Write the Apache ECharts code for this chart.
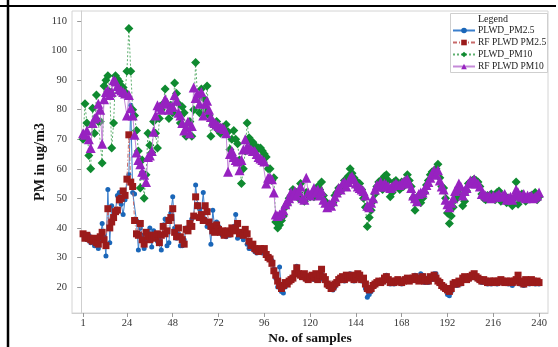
<!DOCTYPE html>
<html>
<head>
<meta charset="utf-8">
<script src="https://cdn.jsdelivr.net/npm/echarts@6/dist/echarts.min.js"></script>
<style>
  html, body { margin: 0; padding: 0; background: #fff; }
  #chart { width: 558px; height: 347px; }
</style>
</head>
<body>
<div id="chart"></div>
<script>
// tick labels
var xTicks = [1, 24, 48, 72, 96, 120, 144, 168, 192, 216, 240];
var yTicks = [20, 30, 40, 50, 60, 70, 80, 90, 100, 110];

// series values, sample 1..240
var plwdPm25 = [
  38, 37.5, 36, 37.5, 35, 36, 34, 35.5, 33, 36,
  41.5, 37, 30.5, 53, 35, 47.5, 43, 46, 51, 52,
  48, 44.5, 49.5, 56.5, 58, 81.5, 52, 51.5, 42.5, 32.5,
  40, 37.5, 33, 36, 38.5, 40, 33.5, 39, 37, 35.5,
  36, 32.5, 41, 43, 34, 35, 45, 50.5, 40, 36.5,
  38, 34, 34, 36, 40, 39.5, 41.5, 43, 44, 54.5,
  48, 46.5, 45, 52, 43, 40.5, 41.5, 34.5, 46, 40,
  42, 40.5, 38.5, 37.5, 38, 37, 38, 37.5, 39, 40.5,
  44.5, 36.5, 38, 37, 36, 39, 34.5, 33, 33, 34,
  32, 31.5, 32.5, 33, 31.5, 32, 31.5, 30.5, 30, 29,
  26, 23, 20, 26.8, 18.5, 18, 20, 21, 21.5, 22.5,
  23.5, 25, 27, 25, 24, 24.5, 23, 22.5, 23, 24,
  23, 22.5, 24, 23.5, 22.5, 24.5, 22.5, 22, 20.5, 20,
  19.5, 19, 20, 21, 22, 22.5, 23, 22, 24, 23.5,
  24.5, 24, 22, 23.5, 24.5, 23, 22, 22.5, 19.5, 16.5,
  17.5, 18.5, 20, 20.5, 21, 21.5, 22, 21.5, 22.5, 24,
  22, 21, 21.5, 21, 21.5, 22, 21.5, 21, 22.5, 23,
  22.5, 22, 23, 22.5, 24, 23, 22, 24.5, 24, 21.5,
  23, 21.5, 23, 22.5, 24.5, 24.5, 22, 21, 20.5, 19.5,
  19, 17.5, 17, 18.5, 20.5, 21, 20.5, 21.5, 21, 22.5,
  23, 23.5, 22.5, 23, 24, 24.5, 23, 22.5, 22, 21.5,
  22, 21.5, 21, 21.5, 21, 21.5, 22, 21, 21.5, 22,
  21.5, 22, 21.5, 21, 21.5, 20.5, 21.5, 22, 23.5, 21,
  21.5, 20.5, 22, 21.5, 21, 22, 21.5, 21, 21.5, 21
];
var rfPm25 = [
  38, 36.5, 37.5, 36.5, 36, 35.5, 36.5, 35, 34.5, 37,
  38.5, 36, 34, 46.5, 40, 42, 43.5, 45.5, 46, 49.5,
  50, 52.5, 51, 56.5, 71.5, 55.5, 54, 42.5, 38, 37.5,
  41.5, 36, 34.5, 38.5, 37, 36, 37.5, 37.5, 36.5, 38,
  35, 37.5, 40.5, 38, 39, 42.5, 43.5, 46.5, 38.5, 37,
  40, 37, 36, 34.5, 39.5, 39, 41.5, 40.5, 44, 50.5,
  47.5, 43.5, 44.5, 42.5, 47.5, 45.5, 42, 40.5, 39, 38.5,
  41, 39.5, 38.5, 39, 37.5, 38.5, 39, 38, 40, 39,
  39.5, 41.5, 38, 38.5, 37.5, 39.5, 38, 35.5, 34, 34.5,
  33, 32.5, 32, 33, 32.5, 33, 31, 30, 29.5, 28,
  25.5, 24, 22, 20.5, 19.5, 20.5, 21.5, 21, 22, 22.5,
  23, 24.5, 26.5, 24.5, 24, 23.5, 24.5, 23, 22.5, 23.5,
  24, 23, 24.5, 22.5, 24, 26, 23.5, 22.5, 21, 20.5,
  19.5, 20, 21, 21.5, 22.5, 23, 23.5, 22.5, 24, 23,
  23.5, 24, 22.5, 23, 24.5, 24, 22.5, 23, 21, 19.5,
  19, 19.5, 20.5, 21, 21.5, 22, 21.5, 22, 23, 23.5,
  22.5, 21.5, 22, 21.5, 22, 22.5, 22, 21.5, 22, 22.5,
  23, 22, 22.5, 23, 23.5, 22.5, 22, 23, 23.5, 22,
  22.5, 22, 23.5, 23, 24, 23, 22, 21.5, 20.5, 20,
  19.5, 19, 18.5, 19.5, 21, 21.5, 21, 22, 21.5, 23,
  23.5, 22.5, 23, 23.5, 24, 24.5, 23.5, 23, 22.5, 22,
  22.5, 22, 21.5, 22, 21.5, 22, 22, 21.5, 22, 22.5,
  22, 21.5, 22, 21.5, 22, 21.5, 22, 22.5, 24, 21.5,
  22, 21, 22.5, 22, 21.5, 22.5, 22, 21.5, 22, 21.5
];
var plwdPm10 = [
  70, 82, 75.5, 64.5, 60, 80.5, 72, 85, 76, 76,
  62, 88, 90, 91.5, 86, 67, 75.5, 91.5, 90.5, 89.5,
  88, 87.5, 86, 93, 107.5, 93, 80, 78, 73, 66,
  53.5, 63, 50, 58, 72, 68, 65.5, 76, 72, 67,
  77, 80, 82, 87, 82, 77, 81.5, 79, 89, 85.5,
  82, 75.5, 81, 79, 71, 74, 76, 71, 80, 96,
  84, 79, 87, 84, 80, 88, 78, 71, 75, 74.5,
  76, 73, 72, 74, 73, 75, 72.5, 66.5, 70, 73,
  70, 68.5, 63, 55, 60, 66, 75.5, 70.5, 69, 69,
  68, 66.5, 67, 67, 66, 65, 64, 60, 60, 56,
  57, 42, 40, 41, 42.5, 44, 47, 48, 50, 51,
  53, 51.5, 52, 50, 55, 49.5, 49, 52, 51, 50.5,
  51, 50.5, 52.5, 54, 53, 55.5, 51, 49, 47.5, 47,
  47.5, 48.5, 51, 52, 53.5, 52.5, 54, 56, 55.5, 57.5,
  60, 58.5, 57, 56, 53.5, 55, 53, 50, 47, 40.5,
  43.5, 46, 49, 51.5, 54, 55.5, 56, 53, 57.5, 58,
  56, 50.5, 52, 55.5, 56, 54, 53, 55.5, 54, 56,
  58, 56, 54, 50, 46, 49, 51, 48.5, 50, 52,
  54.5, 56, 58, 59, 58, 60, 61.5, 57, 54, 53.5,
  50, 45, 41.5, 44, 47, 49.5, 50, 51.5, 53, 47.5,
  49, 52.5, 55, 55.5, 56, 56.5, 56, 55.5, 54, 51.5,
  50, 49.5, 51, 50.5, 51.5, 50, 49.5, 52, 52.5, 49,
  50, 51, 48.5, 50, 49.5, 47.5, 50, 55.5, 48, 50,
  51.5, 50.5, 49, 50, 50.5, 51, 50, 52, 49.5, 50.5
];
var rfPm10 = [
  72, 71.5, 73, 70, 67, 75.5, 77, 77.5, 82, 80,
  68.5, 83.5, 86, 86.5, 85, 86, 90, 89.5, 88, 87,
  86.5, 86, 85.5, 78, 85, 80.5, 78, 71.5, 65.5, 63,
  61.5, 59, 58, 55.5, 64, 64.5, 66, 72.5, 78, 81.5,
  81, 80, 82, 83.5, 82.5, 80, 81, 81, 85, 83,
  79, 78, 75.5, 73, 74, 76, 72, 74.5, 87.5, 84,
  85.5, 82, 86, 78, 82, 83, 80, 77.5, 76, 75.5,
  75, 74.5, 74, 74, 73.5, 72, 59, 65, 66, 64,
  63, 62.5, 59.5, 63, 66.5, 70, 67.5, 67, 66.5, 66,
  66, 65, 64, 63.5, 63, 62.5, 55, 57, 57, 56.5,
  52, 44.5, 44, 44.5, 45, 46, 48, 49, 50, 52,
  51, 52.5, 51, 52.5, 54, 50, 49.5, 57, 52, 51,
  52, 53.5, 52, 53, 51, 52.5, 49.5, 48.5, 47, 48,
  47.5, 49, 50.5, 52, 53.5, 53, 55, 55.5, 54, 55.5,
  57, 57.5, 56.5, 55, 54, 53.5, 53, 52.5, 51, 47.5,
  47, 48.5, 50, 53, 54.5, 54, 55.5, 54, 55, 54.5,
  54, 53.5, 54, 54.5, 55, 54.5, 54.5, 55, 55.5, 56,
  56.5, 55, 53.5, 51, 50, 49, 51.5, 52, 52, 53,
  54.5, 55.5, 57, 58.5, 59.5, 58, 59.5, 56, 54, 53,
  49.5, 48, 47, 48.5, 50, 52.5, 53, 55, 54, 51,
  52.5, 53.5, 55, 56, 55.5, 56.5, 55, 55, 54, 51.5,
  51.5, 51, 50.5, 51, 50, 51, 50.5, 51, 51.5, 50.5,
  51, 51.5, 49.5, 50, 50.5, 49.5, 51, 53, 52, 51,
  50.5, 51.5, 50, 51, 50.5, 51, 50, 50.5, 51, 52
];

function pairs(arr) {
    return arr.map(function (v, i) { return [i + 1, v]; });
}

var serif = '"Liberation Serif", "DejaVu Serif", serif';

var myChart = echarts.init(document.getElementById('chart'), null, { renderer: 'canvas' });

var option = {
    animation: false,
    backgroundColor: '#fff',
    grid: {
        left: 72,
        right: 10,
        top: 11,
        bottom: 34,
        outerBoundsMode: 'none',
        containLabel: false,
        show: true,
        borderColor: '#d4d4d4',
        borderWidth: 1
    },
    legend: {
        orient: 'vertical',
        left: 452,
        top: 25,
        itemWidth: 22,
        itemHeight: 7,
        itemGap: 1,
        padding: 0,
        textStyle: { fontFamily: serif, fontSize: 9.5, lineHeight: 11, color: '#222', padding: [0, 0, 0, -2] },
        data: ['PLWD_PM2.5', 'RF PLWD PM2.5', 'PLWD_PM10', 'RF PLWD PM10']
    },
    graphic: [
        { type: 'rect', shape: { x: 450.5, y: 13.5, width: 97, height: 59 },
          style: { fill: 'none', stroke: '#cfcfcf', lineWidth: 1 }, z: 10 },
        { type: 'text', x: 493, y: 14, style: { text: 'Legend', font: '10px ' + serif, fill: '#222', textAlign: 'center' }, z: 10 },
        { type: 'line', shape: { x1: 0, y1: 6, x2: 556, y2: 6 }, style: { stroke: '#000', lineWidth: 2 } },
        { type: 'line', shape: { x1: 8, y1: 0, x2: 8, y2: 347 }, style: { stroke: '#000', lineWidth: 2.5 } }
    ],
    xAxis: {
        type: 'value',
        min: -4.8,
        max: 244.7,
        name: 'No. of samples',
        nameLocation: 'middle',
        nameGap: 19,
        nameMoveOverlap: false,
        nameTextStyle: { fontFamily: serif, fontSize: 13.5, fontWeight: 'bold', color: '#111' },
        axisLine: { show: true, lineStyle: { color: '#cfcfcf' } },
        axisTick: { show: true, length: 4, lineStyle: { color: '#999' }, customValues: xTicks },
        axisLabel: { fontFamily: serif, fontSize: 10.5, color: '#333', margin: 5, customValues: xTicks },
        splitLine: { show: false }
    },
    yAxis: {
        type: 'value',
        min: 11.2,
        max: 113.4,
        name: 'PM in ug/m3',
        nameLocation: 'middle',
        nameGap: 25,
        nameMoveOverlap: false,
        nameTextStyle: { fontFamily: serif, fontSize: 14, fontWeight: 'bold', color: '#111' },
        axisLine: { show: true, lineStyle: { color: '#cfcfcf' } },
        axisTick: { show: true, length: 4, lineStyle: { color: '#999' }, customValues: yTicks },
        axisLabel: { fontFamily: serif, fontSize: 10.5, color: '#333', margin: 5, customValues: yTicks },
        splitLine: { show: false }
    },
    series: [
        {
            name: 'PLWD_PM2.5',
            type: 'line',
            data: pairs(plwdPm25),
            symbol: 'circle',
            symbolSize: 5,
            showAllSymbol: true,
            color: '#1a66b8',
            lineStyle: { width: 1, color: '#3b7fcc' },
            z: 2
        },
        {
            name: 'RF PLWD PM2.5',
            type: 'line',
            data: pairs(rfPm25),
            symbol: 'rect',
            symbolSize: 7,
            showAllSymbol: true,
            color: '#9b1b1b',
            lineStyle: { width: 1, type: [4, 2, 1, 2], color: '#c86a6a' },
            z: 3
        },
        {
            name: 'PLWD_PM10',
            type: 'line',
            data: pairs(plwdPm10),
            symbol: 'diamond',
            symbolSize: 9,
            showAllSymbol: true,
            color: '#0f8a30',
            lineStyle: { width: 1, type: [2, 2], color: '#5fb070' },
            z: 4
        },
        {
            name: 'RF PLWD PM10',
            type: 'line',
            data: pairs(rfPm10),
            symbol: 'triangle',
            symbolSize: 10,
            showAllSymbol: true,
            color: '#9722c0',
            lineStyle: { width: 1, color: '#c58ad8' },
            z: 5
        }
    ]
};
myChart.setOption(option);
</script>
</body>
</html>
